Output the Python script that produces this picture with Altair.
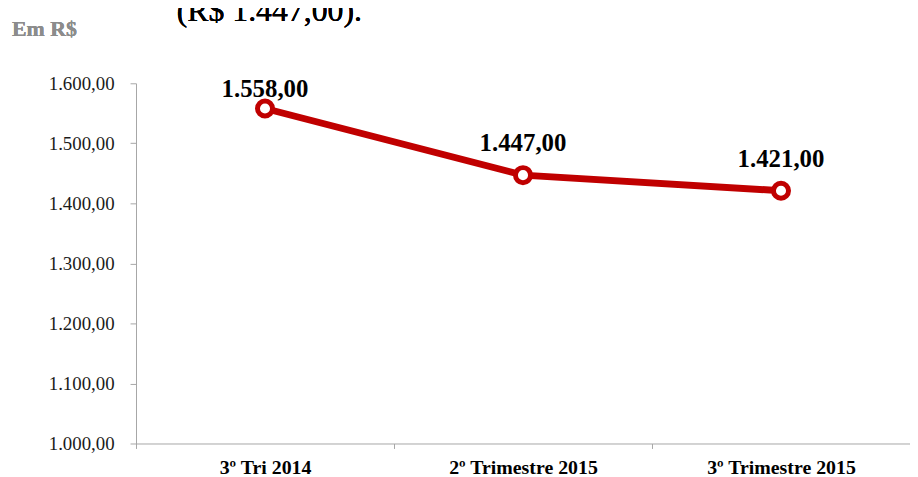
import altair as alt
import pandas as pd

categorias = ["3º Tri 2014", "2º Trimestre 2015", "3º Trimestre 2015"]
valores = [1558.00, 1447.00, 1421.00]

def fmt_br(v):
    s = f"{v:,.2f}"
    return s.replace(",", "_").replace(".", ",").replace("_", ".")

df = pd.DataFrame({"Periodo": categorias, "Valor": valores,
                   "Rotulo": [fmt_br(v) for v in valores]})

SERIF = "Liberation Serif"
RED = "#C00000"

x = alt.X("Periodo:N", sort=categorias, title=None,
          scale=alt.Scale(paddingInner=0, paddingOuter=0),
          axis=alt.Axis(labelAngle=0, labelFont=SERIF, labelFontSize=20,
                        labelFontWeight="bold", labelColor="#000000",
                        domainColor="#A6A6A6", tickColor="#A6A6A6",
                        tickBand="extent", tickSize=5, labelPadding=9))
y = alt.Y("Valor:Q", title=None,
          scale=alt.Scale(domain=[1000, 1600], nice=False, zero=False),
          axis=alt.Axis(values=[1000, 1100, 1200, 1300, 1400, 1500, 1600],
                        grid=False, labelFont=SERIF, labelFontSize=19,
                        labelColor="#1a1a1a", domainColor="#A6A6A6",
                        tickColor="#A6A6A6", tickSize=6, labelPadding=16,
                        labelExpr="replace(replace(replace(format(datum.value, ',.2f'), ',', '_'), '.', ','), '_', '.')"))

base = alt.Chart(df)

linha = base.mark_line(color=RED, strokeWidth=7).encode(x=x, y=y)
pontos = base.mark_point(shape="circle", filled=True, fill="white",
                         stroke=RED, strokeWidth=5, size=230, opacity=1).encode(x=x, y=y)
rot_alto = base.transform_filter("datum.Valor > 1500").mark_text(
    font=SERIF, fontSize=25, fontWeight="bold", color="#000000",
    baseline="alphabetic", dy=-12).encode(x=x, y=y, text="Rotulo:N")
rot_baixo = base.transform_filter("datum.Valor <= 1500").mark_text(
    font=SERIF, fontSize=25, fontWeight="bold", color="#000000",
    baseline="alphabetic", dy=-24).encode(x=x, y=y, text="Rotulo:N")

em_rs = alt.Chart(df).mark_text(text="Em R$", font=SERIF, fontSize=22,
                                fontWeight="bold", color="#8C8C8C",
                                align="left", baseline="alphabetic").encode(
    x=alt.value(-125), y=alt.value(-48))
topo = alt.Chart(df).mark_text(text="(R$ 1.447,00).", font=SERIF, fontSize=32,
                               color="#000000", align="left",
                               baseline="alphabetic").encode(
    x=alt.value(41), y=alt.value(-63))

chart = alt.layer(linha, pontos, rot_alto, rot_baixo, em_rs, topo).properties(
    width=780, height=363,
    autosize=alt.AutoSizeParams(type="none"),
    padding={"left": 129, "top": 74, "right": 0, "bottom": 45},
    background="white",
).configure_view(stroke=None)

chart.save("out.html", embed_options={"renderer": "svg", "actions": False})
